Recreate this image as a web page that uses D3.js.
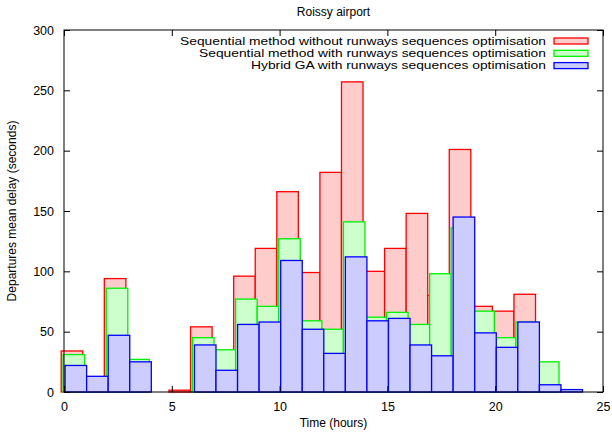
<!DOCTYPE html>
<html>
<head>
<meta charset="utf-8">
<script src="https://cdn.jsdelivr.net/npm/d3@7"></script>
<style>
    body { margin: 0; background: white; }
    text { font-family: "Liberation Sans", Arial, sans-serif; }
</style>
</head>
<body>
<div id="chart"></div>
<script>
// Departures mean delay per hour, Roissy airport
const hours = d3.range(0, 24);
const seqNoOpt = [34, 10, 94, 24, 0, 1.5, 54, 30, 96, 119, 166, 99, 182, 257, 100, 119, 148, 80, 201, 71, 67, 81, 20, 0];
const seqOpt = [31, 10, 86, 27, 0, 0, 45, 35, 77, 71, 127, 59, 52, 141, 62, 66, 56, 98, 136, 67, 45, 58, 25, 0];
const hybridGA = [22, 13, 47, 25, 0, 0, 39, 18, 56, 58, 109, 52, 32, 112, 59, 61, 39, 30, 145, 49, 37, 58, 6, 2];
const xTicks = [0, 5, 10, 15, 20, 25];
const yTicks = [0, 50, 100, 150, 200, 250, 300];

const series = [
    { name: "Sequential method without runways sequences optimisation", values: seqNoOpt, stroke: "#ff0000", fill: "#ffcccc", shift: -0.13, len: 366 },
    { name: "Sequential method with runways sequences optimisation", values: seqOpt, stroke: "#00f000", fill: "#ccffcc", shift: -0.04, len: 347 },
    { name: "Hybrid GA with runways sequences optimisation", values: hybridGA, stroke: "#0000ff", fill: "#ccccff", shift: 0.05, len: 295 },
];

let width = 612,
    height = 434,
    margin = { top: 30, right: 9, bottom: 42, left: 64 };

const svg = d3
    .select("#chart")
    .append("svg")
    .attr("width", width)
    .attr("height", height);

let x = d3.scaleLinear().domain([0, 25]).range([margin.left, width - margin.right]);
let y = d3.scaleLinear().domain([0, 300]).range([height - margin.bottom, margin.top]);

// bars, one series after the other
for (let s of series) {
    svg.append("g")
        .selectAll("rect")
        .data(hours)
        .join("rect")
        .attr("x", (h) => x(h + s.shift))
        .attr("y", (h) => y(s.values[h]))
        .attr("width", x(1) - x(0))
        .attr("height", (h) => y(0) - y(s.values[h]))
        .style("fill", s.fill)
        .style("stroke", s.stroke)
        .style("stroke-width", 1.3);
}

// axes with inward ticks, mirrored
const tickLen = 6;
svg.append("g")
    .attr("transform", `translate(0,${y(0)})`)
    .call(d3.axisBottom(x).tickValues(xTicks).tickSizeInner(-tickLen).tickSizeOuter(0).tickPadding(10))
    .call((g) => g.select(".domain").remove());
svg.append("g")
    .attr("transform", `translate(0,${y(300)})`)
    .call(d3.axisTop(x).tickValues(xTicks).tickSizeInner(-tickLen).tickSizeOuter(0).tickFormat(""))
    .call((g) => g.select(".domain").remove());
svg.append("g")
    .attr("transform", `translate(${x(0)},0)`)
    .call(d3.axisLeft(y).tickValues(yTicks).tickSizeInner(-tickLen).tickSizeOuter(0).tickPadding(10))
    .call((g) => g.select(".domain").remove());
svg.append("g")
    .attr("transform", `translate(${x(25)},0)`)
    .call(d3.axisRight(y).tickValues(yTicks).tickSizeInner(-tickLen).tickSizeOuter(0).tickFormat(""))
    .call((g) => g.select(".domain").remove());

svg.selectAll(".tick text").style("font-size", "12.5px").attr("fill", "black");
svg.selectAll(".tick line").attr("stroke", "black");

svg.append("rect")
    .attr("x", x(0))
    .attr("y", y(300))
    .attr("width", x(25) - x(0))
    .attr("height", y(0) - y(300))
    .style("fill", "none")
    .style("stroke", "black")
    .style("stroke-width", 1);

// legend
const legend = svg.append("g").selectAll("g").data(series).join("g")
    .attr("transform", (d, i) => `translate(0,${41 + i * 12.3})`);
legend.append("text")
    .attr("x", 546)
    .attr("dy", "0.35em")
    .attr("text-anchor", "end")
    .attr("textLength", (d) => d.len)
    .attr("lengthAdjust", "spacingAndGlyphs")
    .style("font-size", "10.6px")
    .text((d) => d.name);
legend.append("rect")
    .attr("x", 554)
    .attr("y", -3)
    .attr("width", 34)
    .attr("height", 6)
    .style("fill", (d) => d.fill)
    .style("stroke", (d) => d.stroke)
    .style("stroke-width", 1.3);

svg.append("text")
    .attr("x", (x(0) + x(25)) / 2)
    .attr("y", 16)
    .attr("text-anchor", "middle")
    .style("font-size", "12px")
    .text("Roissy airport");

svg.append("text")
    .attr("x", (x(0) + x(25)) / 2)
    .attr("y", 427)
    .attr("text-anchor", "middle")
    .style("font-size", "12px")
    .text("Time (hours)");

svg.append("text")
    .attr("transform", `translate(16,${(y(0) + y(300)) / 2}) rotate(-90)`)
    .attr("text-anchor", "middle")
    .style("font-size", "12px")
    .text("Departures mean delay (seconds)");
</script>
</body>
</html>
